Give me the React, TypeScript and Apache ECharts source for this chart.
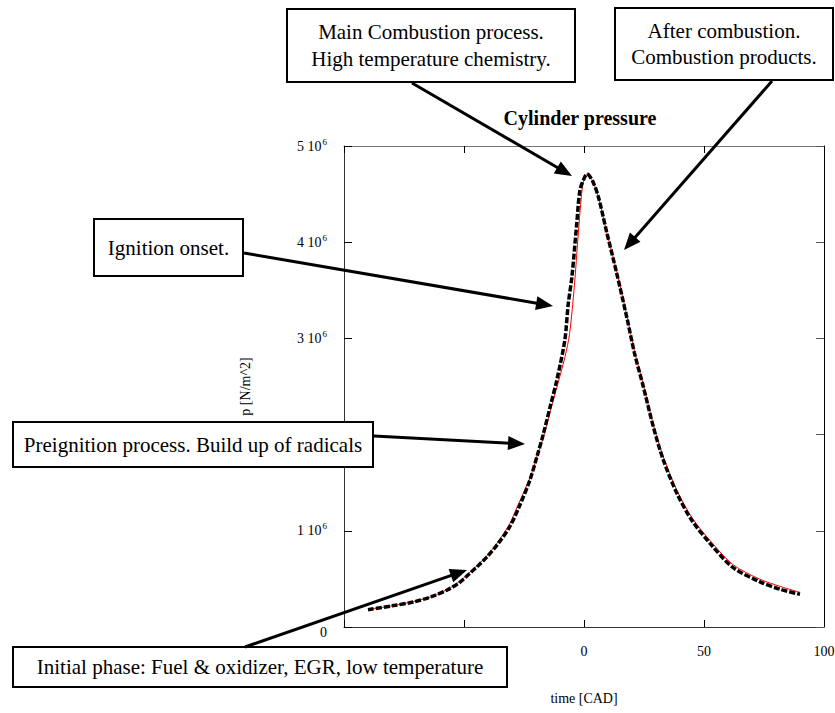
import React, { useEffect, useRef } from "react";
import * as echarts from "echarts";

const blackX = [-90, -80, -71, -63, -57, -52, -47.5, -44, -40.4, -36, -31, -27, -22.5, -19.5, -17, -14, -11.3, -8, -6.6, -5, -3, -1.7, 0, 1.3, 3.5, 6, 9.5, 13.6, 18, 21, 24.7, 28.9, 33, 38.7, 44.9, 52.5, 62, 73.3, 82, 90];
const blackY = [0.18, 0.22, 0.26, 0.32, 0.385, 0.46, 0.56, 0.64, 0.73, 0.86, 1.04, 1.25, 1.53, 1.78, 2.0, 2.3, 2.57, 2.98, 3.35, 3.65, 4.2, 4.54, 4.66, 4.71, 4.64, 4.47, 4.1, 3.68, 3.2, 2.85, 2.5, 2.08, 1.74, 1.39, 1.11, 0.87, 0.62, 0.47, 0.39, 0.34];

const redX = [-90, -80, -71, -63, -57, -52, -47.5, -44, -40.4, -36, -31, -28, -22.5, -19.5, -17, -14, -11, -8, -6, -4, -2.5, -1, 0, 1.3, 3.5, 6, 9.5, 13.6, 18, 21, 24.7, 28.9, 33, 38.7, 44.9, 52.5, 62, 73, 82, 90];
const redY = [0.18, 0.22, 0.265, 0.32, 0.39, 0.47, 0.57, 0.65, 0.74, 0.88, 1.07, 1.24, 1.55, 1.78, 1.97, 2.25, 2.52, 2.8, 3.05, 3.55, 4.05, 4.5, 4.66, 4.71, 4.64, 4.47, 4.1, 3.7, 3.22, 2.87, 2.52, 2.1, 1.77, 1.42, 1.14, 0.9, 0.65, 0.5, 0.42, 0.36];

const xTicks = [-100, -50, 0, 50, 100];
const yTicks = [0, 1, 2, 3, 4, 5];

const FONT = "Liberation Serif";

function arrow(x1: number, y1: number, x2: number, y2: number) {
  const dx = x2 - x1, dy = y2 - y1;
  const len = Math.sqrt(dx * dx + dy * dy);
  const ux = dx / len, uy = dy / len;
  const L = 17, W = 7;
  const bx = x2 - ux * L, by = y2 - uy * L;
  const nx = -uy, ny = ux;
  return [
    { type: "line", z: 100, shape: { x1, y1, x2: bx + ux * 2, y2: by + uy * 2 }, style: { stroke: "#000", lineWidth: 3 } },
    { type: "polygon", z: 100, shape: { points: [[x2, y2], [bx + nx * W, by + ny * W], [bx - nx * W, by - ny * W]] }, style: { fill: "#000" } },
  ];
}

function box(x: number, y: number, w: number, h: number, lines: string[], fs: number) {
  const els: any[] = [
    { type: "rect", z: 100, shape: { x, y, width: w, height: h }, style: { fill: "#fff", stroke: "#000", lineWidth: 2 } },
  ];
  const lh = fs * 1.25;
  const start = y + h / 2 - (lh * (lines.length - 1)) / 2;
  lines.forEach((t, i) => {
    els.push({
      type: "text", z: 101, x: x + w / 2, y: start + i * lh,
      style: { text: t, fill: "#000", font: `${fs}px "${FONT}"`, align: "center", verticalAlign: "middle" },
    });
  });
  return els;
}

export default function App() {
  const ref = useRef<HTMLDivElement>(null);
  useEffect(() => {
    const chart = echarts.init(ref.current!, null, { renderer: "svg" });
    const blackData = blackX.map((x, i) => [x, blackY[i] * 1e6]);
    const redData = redX.map((x, i) => [x, redY[i] * 1e6]);
    const axisLine = { lineStyle: { color: "#333", width: 1 } };
    const graphics: any[] = [
      ...box(287, 9, 288, 73, ["Main Combustion process.", "High temperature chemistry."], 21),
      ...box(615, 8, 218, 72, ["After combustion.", "Combustion products."], 21),
      ...box(94, 219, 149, 57, ["Ignition onset."], 21),
      ...box(13, 422, 360, 45, ["Preignition process. Build up of radicals"], 21),
      ...box(13, 647, 494, 40, ["Initial phase: Fuel & oxidizer, EGR, low temperature"], 21),
      ...arrow(412, 83, 572, 176),
      ...arrow(772, 81, 624, 250),
      ...arrow(244, 253, 553, 306),
      ...arrow(374, 436, 525, 444),
      ...arrow(245, 647, 467, 570),
    ];
    chart.setOption({
      animation: false,
      title: {
        text: "Cylinder pressure",
        left: 575, top: 103, textAlign: "center",
        textStyle: { fontFamily: FONT, fontSize: 20, fontWeight: "bold", color: "#000" },
      },
      grid: { left: 344, right: 11, top: 146, bottom: 86, containLabel: false, outerBoundsMode: "none" },
      xAxis: [
        {
          type: "value", min: xTicks[0], max: xTicks[xTicks.length - 1], interval: 50,
          axisLine: { ...axisLine, onZero: false }, axisTick: { inside: true, length: 7, lineStyle: { color: "#000" } },
          splitLine: { show: false },
          axisLabel: { fontFamily: FONT, fontSize: 14, color: "#000", margin: 17, showMinLabel: true, showMaxLabel: true },
          name: "time [CAD]", nameLocation: "middle", nameGap: 64,
          nameTextStyle: { fontFamily: FONT, fontSize: 14, color: "#000" },
        },
        {
          type: "value", position: "top", min: xTicks[0], max: xTicks[xTicks.length - 1], interval: 50,
          axisLine: { lineStyle: { color: "#777", width: 1 }, onZero: false }, axisTick: { inside: true, length: 7, lineStyle: { color: "#000" } },
          splitLine: { show: false }, axisLabel: { show: false },
        },
      ],
      yAxis: [
        {
          type: "value", min: yTicks[0] * 1e6, max: yTicks[yTicks.length - 1] * 1e6, interval: 1e6,
          axisLine: { ...axisLine, onZero: false }, axisTick: { inside: true, length: 8, lineStyle: { color: "#000" } },
          splitLine: { show: false },
          axisLabel: {
            margin: 17, color: "#000",
            formatter: (v: number) => (v === 0 ? "{z|0}" : `{n|${v / 1e6} 10}{s|6}`),
            rich: {
              z: { fontFamily: FONT, fontSize: 14, color: "#000", padding: [10, 0, 0, 0] },
              n: { fontFamily: FONT, fontSize: 14, color: "#000" },
              s: { fontFamily: FONT, fontSize: 9, color: "#000", padding: [0, 0, 9, 1] },
            },
          },
          name: "p [N/m^2]", nameLocation: "middle", nameGap: 92, nameRotate: 90,
          nameTextStyle: { fontFamily: FONT, fontSize: 14, color: "#000" },
        },
        {
          type: "value", position: "right", min: 0, max: 5e6, interval: 1e6,
          axisLine: { lineStyle: { color: "#000", width: 1 }, onZero: false }, axisTick: { inside: true, length: 8, lineStyle: { color: "#555" } },
          splitLine: { show: false }, axisLabel: { show: false },
        },
      ],
      series: [
        {
          type: "line", data: redData, showSymbol: false, smooth: 0.3,
          lineStyle: { color: "#ff0000", width: 1 }, z: 2,
        },
        {
          type: "line", data: blackData, showSymbol: false, smooth: 0.3,
          lineStyle: { color: "#000", width: 3.5, type: [6, 2] }, z: 3,
        },
      ],
      graphic: graphics,
    });
    return () => chart.dispose();
  }, []);
  return <div ref={ref} style={{ width: 835, height: 713, position: "absolute", left: 0, top: 0 }} />;
}
